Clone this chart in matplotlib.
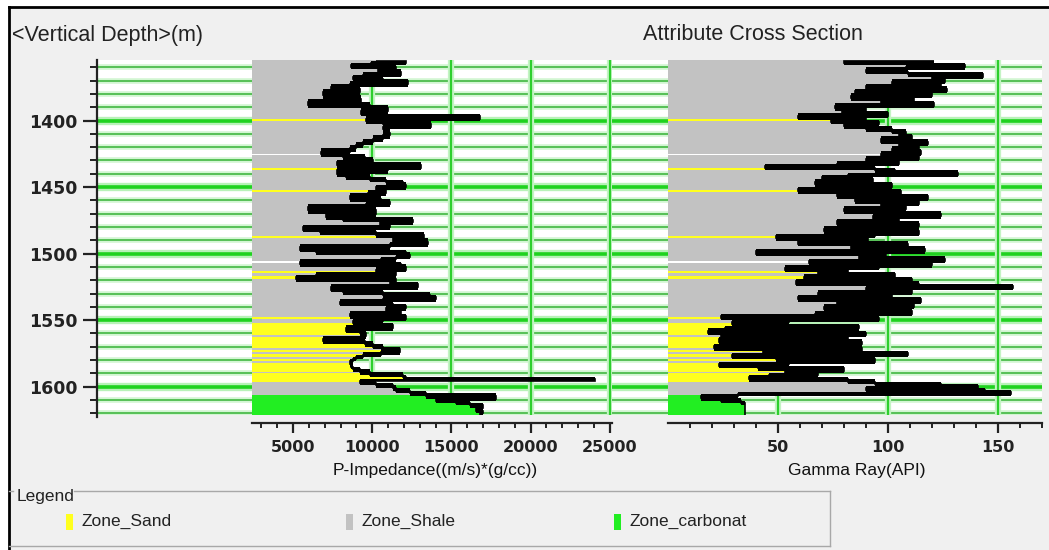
import numpy as np
import matplotlib
matplotlib.use("Agg")
import matplotlib.pyplot as plt
from matplotlib import font_manager
from matplotlib.lines import Line2D
from matplotlib.patches import Rectangle

# ---------------- data ----------------
pimp_depth = [1355, 1356.5, 1358, 1360, 1361.5, 1363.5, 1365.5, 1367.5, 1369, 1370.5,
              1372.5, 1375, 1376.5, 1378.5, 1381, 1383.5, 1386, 1388.5, 1390.5, 1392.5,
              1395, 1396.5, 1398.5, 1400, 1402.5, 1404.5, 1406.5, 1409, 1411, 1413.5,
              1416, 1418.5, 1421, 1423.5, 1425, 1427.5, 1430, 1431.5, 1433.5, 1435.5,
              1437.5, 1440, 1442.5, 1444.5, 1446.5, 1448.5, 1450, 1452.5, 1454.5, 1456.5,
              1459, 1461, 1462.5, 1465, 1467.5, 1470, 1472.5, 1474.5, 1476.5, 1478.5,
              1480, 1482, 1484, 1486, 1488.5, 1491, 1493, 1495, 1497.5, 1499,
              1501, 1502.5, 1504, 1506, 1507.5, 1510, 1512, 1514, 1516, 1517.5,
              1519, 1521, 1523, 1525, 1527, 1529, 1531, 1532.5, 1534, 1536,
              1537.5, 1539, 1541, 1543, 1545, 1547, 1549, 1551, 1552.5, 1554,
              1556, 1558, 1560, 1562, 1564, 1566, 1568, 1570, 1572, 1574,
              1576, 1577.5, 1579, 1581, 1583, 1585, 1587, 1589, 1591, 1592.5,
              1594, 1595.5, 1596, 1597.5, 1599, 1601, 1603, 1605, 1607, 1609,
              1611, 1612.5, 1614, 1616, 1618, 1620, 1621.5]
pimp_value = [10260, 12150, 9950, 8680, 11520, 10370, 11840, 9420, 8790, 10680,
              12260, 8580, 7420, 9210, 6890, 8160, 9310, 5950, 9840, 11000,
              9310, 10470, 16780, 9630, 10680, 13730, 10680, 10890, 11100, 10680,
              10050, 9420, 9000, 8580, 6790, 8160, 9520, 10050, 7740, 13100,
              11000, 7740, 8370, 9840, 10890, 11940, 12150, 10260, 10890, 9730,
              8580, 10580, 11100, 9630, 5950, 10260, 7100, 8160, 12570, 10470,
              11100, 5630, 6680, 10260, 13300, 11310, 13520, 11100, 5420, 6470,
              12150, 12360, 11520, 10580, 5420, 11840, 12150, 10260, 11520, 6470,
              5210, 11520, 11100, 12890, 7420, 8160, 10680, 13630, 14050, 10680,
              7950, 11310, 12150, 10890, 11840, 8580, 12150, 10680, 8790, 10150,
              11310, 8370, 9210, 9630, 9420, 6890, 9520, 10050, 10680, 11730,
              10580, 9420, 9000, 8790, 8580, 8680, 8790, 9210, 9840, 11940,
              12150, 24050, 9210, 9210, 10260, 11310, 11520, 12360, 13420, 17830,
              14050, 15310, 16150, 16990, 16570, 16990, 16780]

gr_depth = [1355, 1356.75, 1358.25, 1360, 1361.75, 1363.75, 1365, 1367, 1368.75, 1370.75,
            1372.5, 1374.25, 1376.25, 1377.5, 1379.25, 1381.25, 1383, 1385, 1386.75, 1388.75,
            1390.75, 1392.5, 1394.25, 1396.25, 1397.75, 1399.25, 1400.75, 1402.5, 1404.25, 1406.25,
            1408.25, 1410, 1411.75, 1413.75, 1415.75, 1417.5, 1419.25, 1421.25, 1423.25, 1425,
            1426.75, 1428.75, 1430.75, 1432.5, 1434.25, 1435.75, 1437.5, 1439.25, 1440.75, 1442.5,
            1444.25, 1446.25, 1448, 1450, 1451.75, 1453.25, 1455, 1456.75, 1458.75, 1460.5,
            1462.5, 1464.25, 1466.25, 1468.25, 1470, 1471.75, 1473.75, 1475.5, 1477.5, 1479.25,
            1481.25, 1483, 1485, 1486.5, 1488, 1490.5, 1492.5, 1494.25, 1496.25, 1498.25,
            1500, 1501.75, 1503.75, 1505.5, 1507, 1508.75, 1510.5, 1512.25, 1513.75, 1515.5,
            1517.25, 1518.75, 1520.5, 1522.5, 1524.25, 1525.75, 1527.5, 1529.25, 1530.75, 1532.5,
            1534.25, 1536.25, 1538, 1539.75, 1541.25, 1543.25, 1545, 1546.75, 1548.25, 1549.75,
            1551.25, 1553, 1554.5, 1556.25, 1558, 1559.5, 1561.25, 1563, 1564.5, 1566.25,
            1568, 1569.5, 1571.25, 1573, 1574.5, 1576.25, 1578, 1579.5, 1581.25, 1583,
            1584.5, 1586.25, 1588, 1589.5, 1591.25, 1593, 1594.5, 1596.25, 1598, 1599.25,
            1600.75, 1602.5, 1604.25, 1605.75, 1607.25, 1608.75, 1610.5, 1612, 1613.75, 1616.25,
            1621.5]
gr_value = [121, 80, 114, 135, 108, 90, 109, 143, 120, 126,
            102, 124, 90, 127, 85, 120, 83, 112, 97, 121,
            76, 90, 79, 100, 59, 90, 74, 96, 80, 90,
            102, 108, 105, 111, 97, 118, 105, 114, 102, 115,
            97, 114, 90, 105, 77, 44, 94, 103, 132, 82,
            70, 93, 67, 102, 83, 59, 106, 77, 118, 85,
            114, 97, 108, 80, 105, 124, 93, 105, 77, 114,
            85, 71, 114, 94, 49, 91, 59, 109, 83, 117,
            40, 99, 87, 126, 64, 120, 96, 53, 82, 68,
            103, 62, 111, 58, 114, 157, 90, 111, 68, 102,
            59, 115, 77, 112, 71, 87, 111, 67, 24, 96,
            55, 29, 47, 87, 26, 18, 90, 24, 82, 23,
            88, 71, 21, 88, 43, 109, 29, 49, 94, 55,
            23, 41, 80, 53, 68, 46, 37, 82, 94, 124,
            141, 90, 144, 156, 32, 15, 24, 33, 35, 35,
            35]

# lithology zones (depth intervals, m)
shale_top, shale_base = [1354.5], [1606.0]
sand_top = [1398.5, 1435.3, 1452.0, 1487.0, 1512.8, 1517.0, 1548.0,
            1552.0, 1562.5, 1572.5, 1575.5, 1579.0, 1582.5, 1590.0]
sand_base = [1400.0, 1436.8, 1453.5, 1488.5, 1514.5, 1519.0, 1549.5,
             1561.5, 1571.0, 1574.0, 1577.5, 1581.0, 1589.0, 1596.5]
gap_top, gap_base = [1424.8, 1505.5], [1426.0, 1506.8]
carb_top, carb_base = [1606.0], [1621.5]

depth_major = [1400, 1450, 1500, 1550, 1600]
depth_minor = list(range(1360, 1621, 10))
pimp_ticks = [5000, 10000, 15000, 20000, 25000]
gr_ticks = [50, 100, 150]
legend_names = ["Zone_Sand", "Zone_Shale", "Zone_carbonat"]

SAND, SHALE, CARB = "#ffff1e", "#c2c2c2", "#22ee22"

# ---------------- layout helpers ----------------
W, H, DPI = 1049, 550, 100
fig = plt.figure(figsize=(W / DPI, H / DPI), dpi=DPI)
fig.patch.set_facecolor("#f0f0f0")


def box(l, t, r, b):
    return [l / W, 1 - b / H, (r - l) / W, (b - t) / H]


def fxy(x, y):
    return x / W, 1 - y / H


def pick_font(names):
    for n in names:
        try:
            font_manager.findfont(n, fallback_to_default=False)
            return n
        except Exception:
            continue
    return "DejaVu Sans"


SANS = pick_font(["Liberation Sans", "Arial"])
NARROW = pick_font(["Liberation Sans Narrow", "Liberation Sans"])
TICKFONT = dict(family="DejaVu Sans", weight="bold", size=11.5)
DEPTHFONT = dict(family="DejaVu Sans", weight="bold", size=12.5)

YLIM = (1621.5, 1354.5)
TOP, BOT = 60, 415.3

# window frame
fig.add_artist(Rectangle((0, 0), 8 / W, 1, transform=fig.transFigure, color="white", zorder=0))
fig.add_artist(Rectangle(fxy(0, 6), 1, 6 / H, transform=fig.transFigure, color="white", zorder=0))
fig.add_artist(Line2D([9 / W, 1], [1 - 7 / H] * 2, transform=fig.transFigure, color="black", lw=2))
fig.add_artist(Line2D([9 / W] * 2, [0, 1 - 7 / H], transform=fig.transFigure, color="black", lw=2))

# ---------------- background panel with depth axis ----------------
panel = fig.add_axes(box(97, TOP, 1042, BOT))
panel.set_facecolor("white")
panel.set_ylim(*YLIM)
panel.set_xlim(0, 1)
panel.set_xticks([])
for s in ("top", "right", "bottom"):
    panel.spines[s].set_visible(False)
panel.spines["left"].set_color("#222222")
panel.spines["left"].set_linewidth(1.6)
panel.spines["left"].set_bounds(1622.5, 1354.5)
panel.set_yticks(depth_major)
panel.set_yticklabels([str(d) for d in depth_major], fontdict=DEPTHFONT, color="#222222")
panel.set_yticks(depth_minor, minor=True)
panel.tick_params(axis="y", which="major", length=10, width=1.6, pad=4, color="#222222")
panel.tick_params(axis="y", which="minor", length=5, width=1.4, color="#222222")

for d in depth_minor:
    if d in depth_major:
        panel.axhline(d, color="#b8f2b8", lw=6, zorder=1)
        panel.axhline(d, color="#1fd21f", lw=2.6, zorder=1.1)
    else:
        panel.axhline(d, color="#d2f6d2", lw=4, zorder=1)
        panel.axhline(d, color="#4cbc4c", lw=1.3, zorder=1.1)


# ---------------- log tracks ----------------
def step_value(depth, value, d):
    idx = np.clip(np.searchsorted(depth, d, side="left"), 0, len(value) - 1)
    return value[idx]


def zone_fill(ax, depth, value, tops, bases, x0, color):
    depth = np.asarray(depth, float)
    value = np.asarray(value, float)
    for a, b in zip(tops, bases):
        inner = depth[(depth > a) & (depth < b)]
        ys = np.concatenate([[a], inner, [b]])
        xs = step_value(depth, value, ys)
        xs[0] = xs[1]
        ax.fill_betweenx(ys, x0, xs, step="pre", color=color, lw=0, zorder=2)


def log_curve(ax, depth, value):
    """Step log: the strokes bounding each sample interval are merged into a
    solid bar, with the step outline drawn on top."""
    depth = np.asarray(depth, float)
    value = np.asarray(value, float)
    prv = np.insert(value[:-1], 0, value[0])
    nxt = np.append(value[1:], value[-1])
    lo = np.minimum(np.minimum(prv, value), nxt)
    hi = np.maximum(np.maximum(prv, value), nxt)
    ax.fill_betweenx(depth, lo, hi, step="pre", color="black", lw=0, zorder=3)
    ax.plot(value, depth, drawstyle="steps-post", color="black", lw=1.2,
            solid_joinstyle="miter", solid_capstyle="butt", zorder=3.1)


def track(l, r, xlim, ticks, minor, depth, value, label, label_x):
    ax = fig.add_axes(box(l, TOP, r, BOT))
    ax.patch.set_alpha(0)
    ax.set_xlim(*xlim)
    ax.set_ylim(*YLIM)
    ax.set_yticks([])
    for s in ("top", "right", "left"):
        ax.spines[s].set_visible(False)
    ax.spines["bottom"].set_position(("outward", 5.5))
    ax.spines["bottom"].set_color("#222222")
    ax.spines["bottom"].set_linewidth(1.6)
    ax.set_xticks(ticks)
    ax.set_xticklabels([str(t) for t in ticks], fontdict=TICKFONT, color="#222222")
    ax.set_xticks(minor, minor=True)
    ax.tick_params(axis="x", which="major", length=7, width=1.6, pad=5, color="#222222")
    ax.tick_params(axis="x", which="minor", length=3.5, width=1.4, color="#222222")
    for t in ticks:
        ax.axvline(t, color="#c4f4c4", lw=4.5, zorder=1)
        ax.axvline(t, color="#2ecf2e", lw=1.6, zorder=1.1)
    x0 = xlim[0]
    zone_fill(ax, depth, value, shale_top, shale_base, x0, SHALE)
    zone_fill(ax, depth, value, gap_top, gap_base, x0, "white")
    zone_fill(ax, depth, value, sand_top, sand_base, x0, SAND)
    zone_fill(ax, depth, value, carb_top, carb_base, x0, CARB)
    log_curve(ax, depth, value)
    fig.text(*fxy(label_x, 470), label, ha="center", va="center",
             family=SANS, size=12.5, color="#111111")
    return ax


track(252, 612, (2400, 25150), pimp_ticks, list(range(3000, 25001, 1000)),
      pimp_depth, pimp_value, "P-Impedance((m/s)*(g/cc))", 435)
track(668, 1042, (0, 170), gr_ticks, list(range(10, 171, 10)),
      gr_depth, gr_value, "Gamma Ray(API)", 857)

# ---------------- titles ----------------
fig.text(*fxy(12, 35), "<Vertical Depth>(m)", ha="left", va="center",
         family=SANS, size=15.5, color="#222222")
fig.text(*fxy(643, 35), "Attribute Cross Section", ha="left", va="center",
         family=SANS, size=15.5, color="#222222")

# ---------------- legend group box ----------------
gb = "#a8a8a8"
fig.add_artist(Line2D([9 / W, 13 / W], [1 - 491 / H] * 2, transform=fig.transFigure, color=gb, lw=1))
fig.add_artist(Line2D([74 / W, 830 / W], [1 - 491 / H] * 2, transform=fig.transFigure, color=gb, lw=1))
fig.add_artist(Line2D([830 / W] * 2, [1 - 491 / H, 1 - 546 / H], transform=fig.transFigure, color=gb, lw=1))
fig.add_artist(Line2D([9 / W, 830 / W], [1 - 546 / H] * 2, transform=fig.transFigure, color=gb, lw=1))
fig.text(*fxy(17, 496), "Legend", ha="left", va="center", family=NARROW, size=12.5, color="#222222")

for name, color, ix in zip(legend_names, [SAND, SHALE, CARB], [66, 346, 614]):
    fig.add_artist(Rectangle(fxy(ix, 530), 7 / W, 16 / H, transform=fig.transFigure,
                             color=color, lw=0))
    fig.add_artist(Rectangle(fxy(ix + 4, 530), 3 / W, 6 / H, transform=fig.transFigure,
                             color=color, lw=0, alpha=0.6))
    fig.text(*fxy(ix + 15, 521), name, ha="left", va="center", family=NARROW,
             size=12.5, color="#222222")

fig.savefig("out.png", dpi=DPI, facecolor=fig.get_facecolor())
